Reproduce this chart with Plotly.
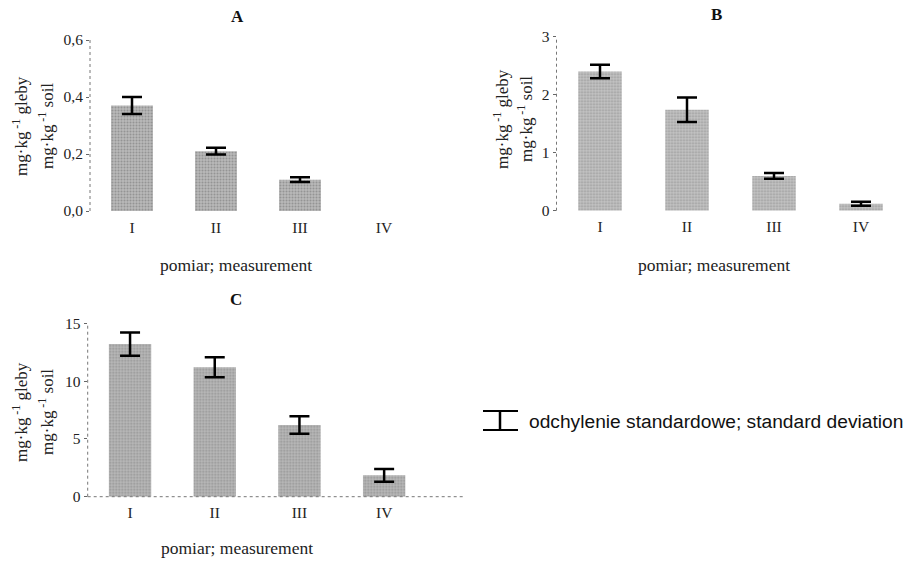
import plotly.graph_objects as go

categories = ["I", "II", "III", "IV"]

a_values = [0.37, 0.21, 0.11, None]
a_sd = [0.03, 0.012, 0.008, None]

b_values = [2.40, 1.74, 0.60, 0.12]
b_sd = [0.115, 0.21, 0.05, 0.035]

c_values = [13.2, 11.2, 6.2, 1.85]
c_sd = [1.0, 0.87, 0.76, 0.55]

panel_titles = ["A", "B", "C"]
y_title_pl = "mg·kg<sup> -1</sup> gleby"
y_title_en = "mg·kg<sup> -1</sup> soil"
x_title = "pomiar; measurement"
legend_text = "odchylenie standardowe; standard deviation"

W, H = 909, 562
SERIF = "Liberation Serif"
SANS = "Liberation Sans"

fig = go.Figure()

panels = [
    dict(vals=a_values, sd=a_sd, xa="x", ya="y", color="#b8b8b8"),
    dict(vals=b_values, sd=b_sd, xa="x2", ya="y2", color="#c4c4c4"),
    dict(vals=c_values, sd=c_sd, xa="x3", ya="y3", color="#b8b8b8"),
]

for p in panels:
    fig.add_trace(go.Bar(
        x=categories, y=p["vals"], xaxis=p["xa"], yaxis=p["ya"],
        width=0.5,
        marker=dict(color=p["color"], line=dict(width=0),
                    pattern=dict(shape=".", fgcolor="#707070", size=3, solidity=0.35)),
        error_y=dict(type="data", array=p["sd"], visible=True,
                     color="black", thickness=2.5, width=10),
        showlegend=False,
    ))

def px_x(v):
    return v / W

def px_y(v):
    return 1 - v / H

tickfont = dict(family=SERIF, size=15.5, color="#222")
common_x = dict(type="category", tickfont=tickfont, showline=False, showgrid=False,
                zeroline=False, ticks="", automargin=False, ticklabelstandoff=5)
common_y = dict(tickfont=tickfont, showline=False, showgrid=False, zeroline=False,
                ticks="outside", ticklen=3, tickcolor="#666", automargin=False)

fig.update_layout(
    width=W, height=H, autosize=False,
    margin=dict(l=0, r=0, t=0, b=0, pad=0, autoexpand=False),
    plot_bgcolor="white", paper_bgcolor="white",
    separators=", ",
    xaxis=dict(domain=[px_x(90), px_x(426)], range=[-0.5, 3.5], anchor="y", **common_x),
    yaxis=dict(domain=[px_y(211), px_y(40)], range=[0, 0.6], dtick=0.2, tickformat=".1f",
               anchor="x", **common_y),
    xaxis2=dict(domain=[px_x(556.5), px_x(904.5)], range=[-0.5, 3.5], anchor="y2", **common_x),
    yaxis2=dict(domain=[px_y(210.7), px_y(36.7)], range=[0, 3], dtick=1, anchor="x2", **common_y),
    xaxis3=dict(domain=[px_x(87.7), px_x(464.6)], range=[-0.5, 3.95], anchor="y3", **common_x),
    yaxis3=dict(domain=[px_y(496.7), px_y(323.3)], range=[0, 15], dtick=5, anchor="x3", **common_y),
)

# axis lines (dotted, grey)
for xa, ya in [("x", "y"), ("x2", "y2"), ("x3", "y3")]:
    fig.add_shape(type="line", xref=f"{xa} domain", yref=f"{ya} domain",
                  x0=0, x1=0, y0=0, y1=1, line=dict(color="#777", width=1, dash="dot"))
fig.add_shape(type="line", xref="x3 domain", yref="y3 domain",
              x0=0, x1=1, y0=0, y1=0, line=dict(color="#777", width=1, dash="dot"))

def ann(text, x, y, font, **kw):
    fig.add_annotation(text=text, x=px_x(x), y=px_y(y), xref="paper", yref="paper",
                       showarrow=False, xanchor=kw.pop("xanchor", "center"),
                       yanchor="middle", font=font, **kw)

# panel titles
for txt, x, y in [(panel_titles[0], 237, 16), (panel_titles[1], 716, 14), (panel_titles[2], 236, 299)]:
    ann(f"<b>{txt}</b>", x, y, dict(family=SERIF, size=17, color="#111"))

# y titles (two rotated lines)
yfont = dict(family=SERIF, size=17, color="#222")
for x1, x2, y in [(20, 46, 126), (501, 525, 119), (20, 46, 412)]:
    ann(y_title_pl, x1, y, yfont, textangle=-90)
    ann(y_title_en, x2, y, yfont, textangle=-90)

# x titles
for x, y in [(236, 265), (714, 265), (237, 548)]:
    ann(x_title, x, y, dict(family=SERIF, size=17.5, color="#222"))

# legend icon + text
fig.add_shape(type="line", xref="paper", yref="paper", x0=px_x(483), x1=px_x(518),
              y0=px_y(411), y1=px_y(411), line=dict(color="black", width=2))
fig.add_shape(type="line", xref="paper", yref="paper", x0=px_x(483), x1=px_x(518),
              y0=px_y(430), y1=px_y(430), line=dict(color="black", width=2))
fig.add_shape(type="line", xref="paper", yref="paper", x0=px_x(500), x1=px_x(500),
              y0=px_y(411), y1=px_y(430), line=dict(color="black", width=2.5))
ann(legend_text, 527, 421, dict(family=SANS, size=19.2, color="#111"), xanchor="left")

fig.write_html("out.html")
